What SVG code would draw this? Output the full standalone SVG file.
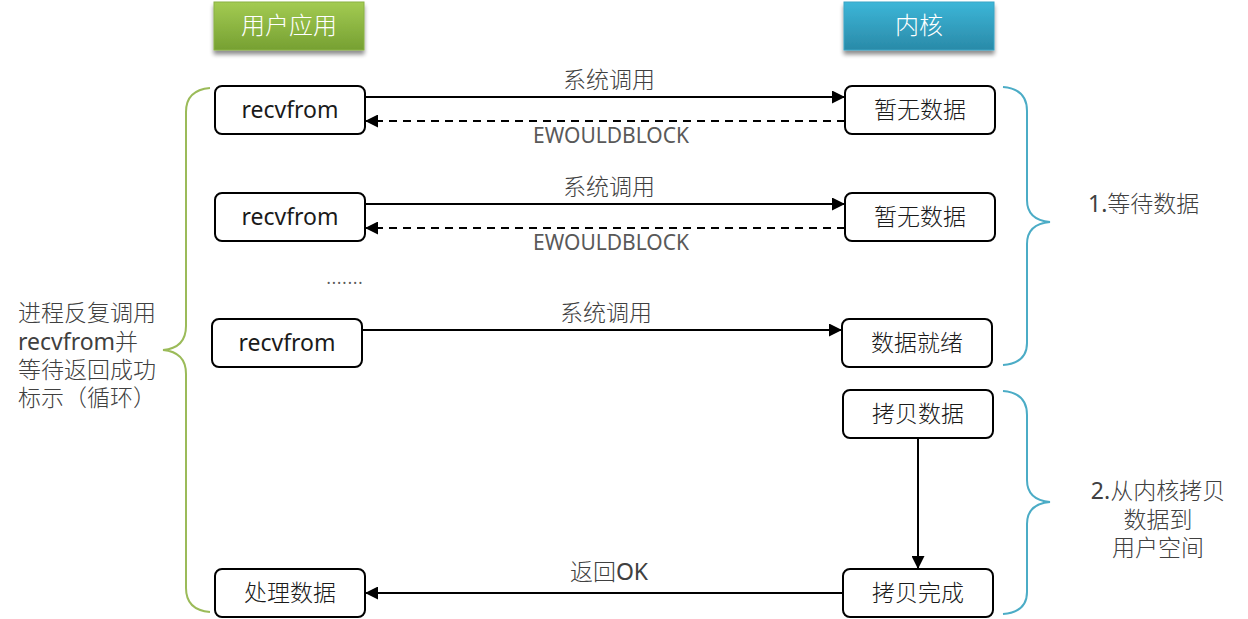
<svg xmlns="http://www.w3.org/2000/svg" width="1248" height="619" viewBox="0 0 1248 619">
<defs>
<linearGradient id="gGreen" x1="0" y1="0" x2="0" y2="1"><stop offset="0" stop-color="#a3cb52"/><stop offset="1" stop-color="#76a032"/></linearGradient>
<linearGradient id="gBlue" x1="0" y1="0" x2="0" y2="1"><stop offset="0" stop-color="#3cb6d8"/><stop offset="1" stop-color="#2a8aa8"/></linearGradient>
<filter id="sh" x="-10%" y="-20%" width="120%" height="160%"><feGaussianBlur in="SourceAlpha" stdDeviation="2"/><feOffset dx="0" dy="4"/><feComponentTransfer><feFuncA type="linear" slope="0.45"/></feComponentTransfer><feMerge><feMergeNode/><feMergeNode in="SourceGraphic"/></feMerge></filter>
<marker id="ah" viewBox="0 0 10 10" refX="10" refY="5" markerWidth="13" markerHeight="13" markerUnits="userSpaceOnUse" orient="auto"><path d="M0,0 L10,5 L0,10 z" fill="#000"/></marker>
</defs>
<style>
text{font-family:"Noto Sans","Open Sans","Noto Sans CJK SC",sans-serif;font-weight:400;}
.cj{font-family:"Noto Sans CJK SC","Noto Sans",sans-serif;font-weight:300;}
.node rect{fill:#fff;stroke:#000;stroke-width:2;}
.nt{font-size:23px;fill:#1a1a1a;text-anchor:middle;}
.hd{font-size:24px;fill:#fff;text-anchor:middle;}
.lbl{font-size:23px;fill:#404040;text-anchor:middle;}
.ew{font-size:21px;fill:#595959;text-anchor:middle;}
.side{font-size:23px;fill:#404040;}
.ln{stroke:#000;stroke-width:2;fill:none;marker-end:url(#ah);}
.dash{stroke-dasharray:8,6;}
</style>
<rect width="1248" height="619" fill="#fff"/>
<g id="hdr-user"><rect x="214" y="2" width="150" height="48" fill="url(#gGreen)" stroke="#8ab245" stroke-width="1" filter="url(#sh)"/><text class="hd cj" x="289" y="34">用户应用</text></g>
<g id="hdr-kernel"><rect x="844" y="2" width="150" height="48" fill="url(#gBlue)" stroke="#3aa5c5" stroke-width="1" filter="url(#sh)"/><text class="hd cj" x="919" y="34">内核</text></g>

<g id="n-recv1" class="node"><rect x="215" y="86" width="150" height="48" rx="7"/><text class="nt" x="290" y="118">recvfrom</text></g>
<g id="n-k1" class="node"><rect x="845" y="86" width="150" height="48" rx="7"/><text class="nt cj" x="920" y="118">暂无数据</text></g>
<g id="n-recv2" class="node"><rect x="215" y="193" width="150" height="48" rx="7"/><text class="nt" x="290" y="225">recvfrom</text></g>
<g id="n-k2" class="node"><rect x="845" y="193" width="150" height="48" rx="7"/><text class="nt cj" x="920" y="225">暂无数据</text></g>
<g id="n-recv3" class="node"><rect x="212" y="319" width="150" height="48" rx="7"/><text class="nt" x="287" y="351">recvfrom</text></g>
<g id="n-k3" class="node"><rect x="842" y="319" width="150" height="48" rx="7"/><text class="nt cj" x="917" y="351">数据就绪</text></g>
<g id="n-copy" class="node"><rect x="843" y="390" width="150" height="48" rx="7"/><text class="nt cj" x="918" y="422">拷贝数据</text></g>
<g id="n-done" class="node"><rect x="843" y="569" width="150" height="48" rx="7"/><text class="nt cj" x="918" y="601">拷贝完成</text></g>
<g id="n-proc" class="node"><rect x="215" y="569" width="150" height="48" rx="7"/><text class="nt cj" x="290" y="601">处理数据</text></g>

<g id="connectors">
<line class="ln" x1="365" y1="97" x2="845" y2="97"/>
<line class="ln dash" x1="845" y1="121" x2="365" y2="121"/>
<line class="ln" x1="365" y1="204" x2="845" y2="204"/>
<line class="ln dash" x1="845" y1="228" x2="365" y2="228"/>
<line class="ln" x1="362" y1="330" x2="842" y2="330"/>
<line class="ln" x1="918" y1="438" x2="918" y2="569"/>
<line class="ln" x1="843" y1="593" x2="365" y2="593"/>
<text class="lbl cj" x="609" y="88">系统调用</text>
<text class="ew" x="611" y="143">EWOULDBLOCK</text>
<text class="lbl cj" x="609" y="195">系统调用</text>
<text class="ew" x="611" y="250">EWOULDBLOCK</text>
<text class="lbl cj" x="606" y="321">系统调用</text>
<text class="lbl" x="609" y="580"><tspan class="cj">返回</tspan>OK</text>
<text x="345" y="284" font-size="16" fill="#595959" text-anchor="middle" letter-spacing="1">.......</text>
</g>

<g id="brace-left" fill="none" stroke="#9bbb59" stroke-width="2">
<path d="M210,88 Q186,90 186,112 L186,326 Q186,348 163,350 Q186,352 186,374 L186,588 Q186,610 210,612"/>
</g>
<g id="brace-right1" fill="none" stroke="#4bacc6" stroke-width="2">
<path d="M1003,87 Q1027,89 1027,111 L1027,200 Q1027,220 1050,222 Q1027,224 1027,244 L1027,343 Q1027,363 1003,365"/>
</g>
<g id="brace-right2" fill="none" stroke="#4bacc6" stroke-width="2">
<path d="M1003,391 Q1027,393 1027,415 L1027,480 Q1027,500 1050,502 Q1027,504 1027,524 L1027,592 Q1027,612 1003,614"/>
</g>

<g id="side-texts">
<text class="side cj" x="18" y="321">进程反复调用</text>
<text class="side" x="18" y="350">recvfrom<tspan class="cj">并</tspan></text>
<text class="side cj" x="18" y="378">等待返回成功</text>
<text class="side cj" x="18" y="406">标示（循环）</text>
<text class="side" x="1088" y="212">1.<tspan class="cj">等待数据</tspan></text>
<text class="side" x="1158" y="499" text-anchor="middle">2.<tspan class="cj">从内核拷贝</tspan></text>
<text class="side cj" x="1158" y="528" text-anchor="middle">数据到</text>
<text class="side cj" x="1158" y="556" text-anchor="middle">用户空间</text>
</g>
</svg>
